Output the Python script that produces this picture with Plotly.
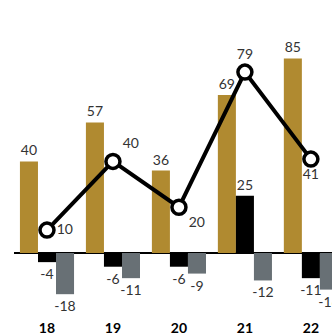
import plotly.graph_objects as go

categories = ["18", "19", "20", "21", "22"]
gold_vals = [40, 57, 36, 69, 85]
black_vals = [-4, -6, -6, 25, -11]
gray_vals = [-18, -11, -9, -12, -16]
line_vals = [10, 40, 20, 79, 41]
line_text_pos = ["middle right", "top right", "bottom right", "top center", "bottom center"]

GOLD = "#B08A30"
BLACK = "#000000"
GRAY = "#687075"
TXT = "#333333"
FONT = "Lato"

fig = go.Figure()
for vals, col in [(gold_vals, GOLD), (black_vals, BLACK), (gray_vals, GRAY)]:
    fig.add_trace(go.Bar(
        x=categories, y=vals, marker=dict(color=col, line=dict(width=0)),
        text=[str(v) for v in vals], textposition="outside",
        textfont=dict(family=FONT, size=14, color=TXT),
        constraintext="none",
        cliponaxis=True, showlegend=False, hoverinfo="skip",
    ))

fig.add_trace(go.Scatter(
    x=categories, y=line_vals, mode="lines+markers+text",
    line=dict(color="black", width=4),
    marker=dict(size=14, color="white", line=dict(color="black", width=3.5)),
    text=[str(v) for v in line_vals], textposition=line_text_pos,
    textfont=dict(family=FONT, size=14, color=TXT),
    cliponaxis=False, showlegend=False, hoverinfo="skip",
))

fig.update_layout(
    width=332, height=336,
    margin=dict(l=14, r=0, t=0, b=18),
    barmode="group", bargap=0.18, bargroupgap=0,
    plot_bgcolor="white", paper_bgcolor="white",
    font=dict(family=FONT, color=TXT),
    xaxis=dict(range=[-0.5, 4.32], showgrid=False, showline=False, ticks="",
               tickfont=dict(family=FONT, size=14, color="black", weight="bold"),
               ticklabelstandoff=0, automargin=False),
    yaxis=dict(range=[-28.4, 110.5], showgrid=False, showticklabels=False,
               zeroline=True, zerolinecolor="black", zerolinewidth=1.5,
               automargin=False),
)

fig.write_html("out.html")
